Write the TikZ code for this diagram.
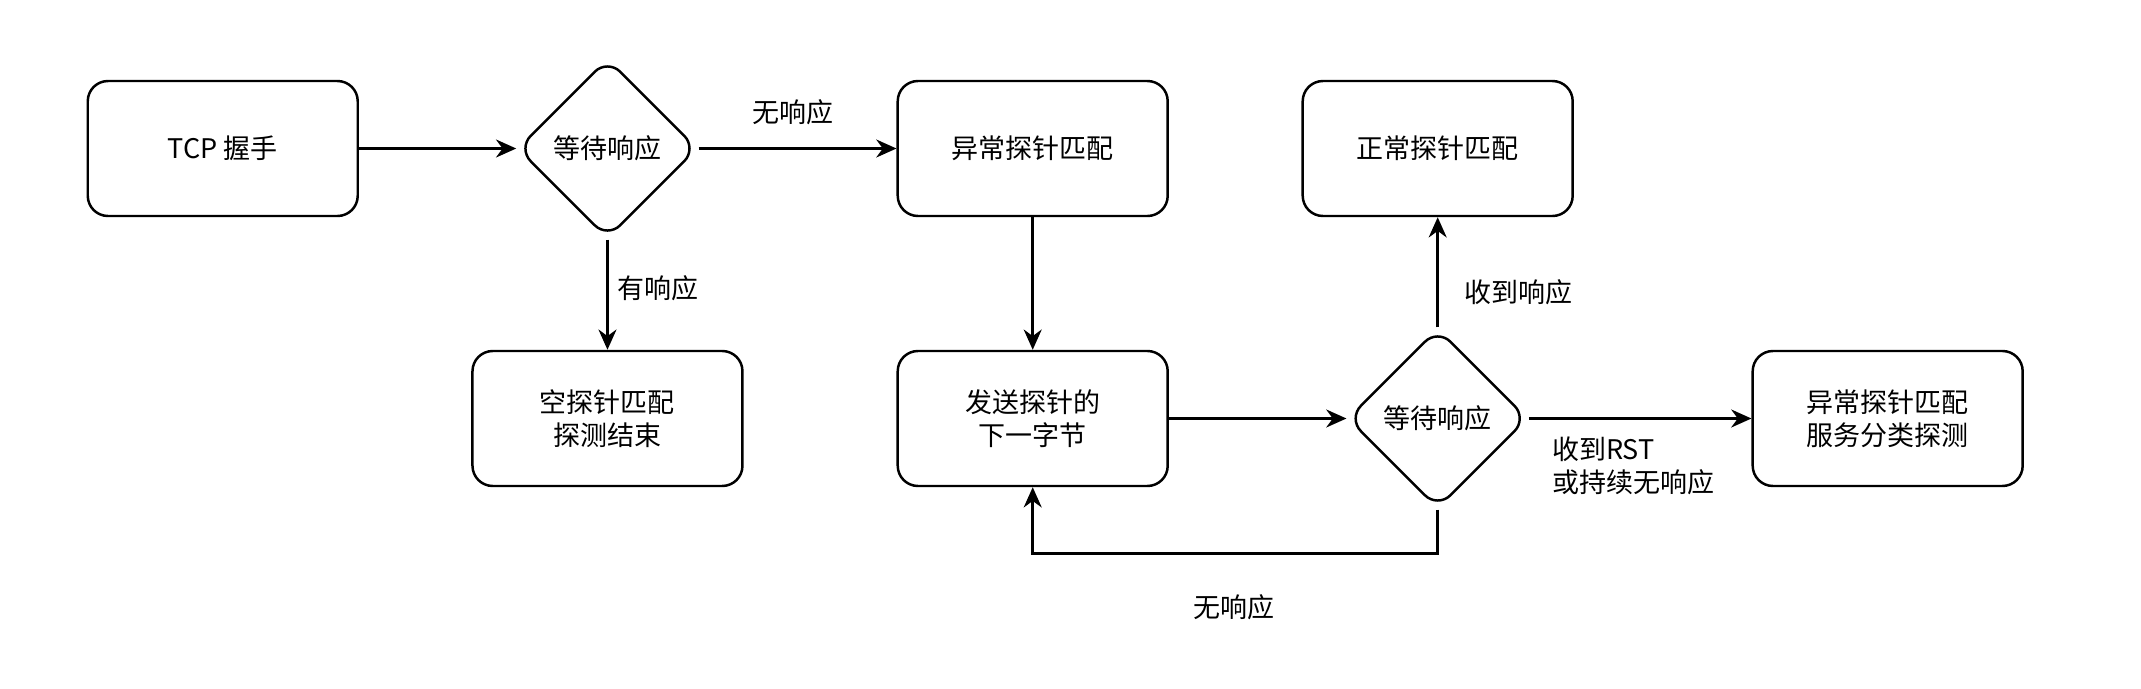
\documentclass[tikz,border=0pt]{standalone}
\usepackage{fontspec}
\setmainfont{Noto Sans CJK SC}
\usetikzlibrary{shapes.geometric,arrows.meta}

\begin{document}
\begin{tikzpicture}[x=1pt,y=-1pt,line width=1.1pt,
    font=\fontsize{12}{14.5}\selectfont,
    box/.style={draw, rounded corners=9pt, minimum width=120pt, minimum height=60pt, inner sep=0pt, align=center},
    choice/.style={draw, diamond, aspect=1, rounded corners=8pt, minimum width=80pt, minimum height=80pt, inner sep=0pt},
    flow/.style={-{Stealth[length=9pt,width=8pt]}}]
    \useasboundingbox (0,0) rectangle (951.6,306.2);

    \node[box] (tcp) at (99,66) {TCP 握手};
    \node[choice] (wait1) at (270,66) {等待响应};
    \node[box] (abn) at (459,66) {异常探针匹配};
    \node[box] (null) at (270,186) {空探针匹配\\探测结束};
    \node[box] (send) at (459,186) {发送探针的\\下一字节};
    \node[choice] (wait2) at (639,186) {等待响应};
    \node[box] (norm) at (639,66) {正常探针匹配};
    \node[box] (svc) at (839,186) {异常探针匹配\\服务分类探测};
    \coordinate (back) at (639,246);

    \draw[flow] (tcp) -- (wait1);
    \draw[flow] (wait1) -- (abn);
    \draw[flow] (wait1) -- (null);
    \draw[flow] (abn) -- (send);
    \draw[flow] (send) -- (wait2);
    \draw[flow] (wait2) -- (norm);
    \draw[flow] (wait2) -- (svc);
    \draw[flow] (wait2.south) -- (back) -| (send.south);

    \node (noresp1) at (352.5,50) {无响应};
    \node (resp) at (292.5,128) {有响应};
    \node (got) at (675,130) {收到响应};
    \node[anchor=west, align=left] (rst) at (686,207) {收到RST\\或持续无响应};
    \node (noresp2) at (548.5,270) {无响应};
\end{tikzpicture}
\end{document}
